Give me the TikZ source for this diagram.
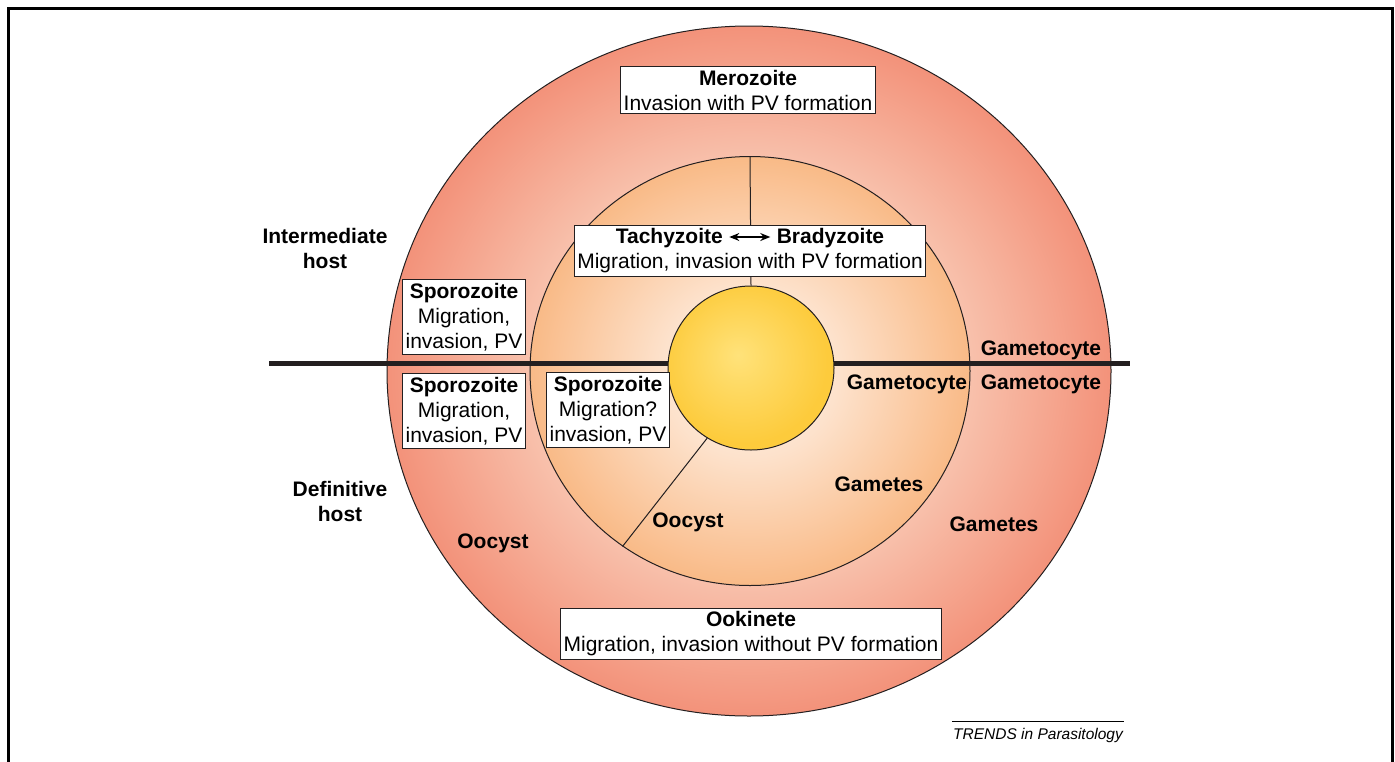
\documentclass[tikz,border=0pt]{standalone}
\usepackage{fontspec}
\setmainfont{Liberation Sans}
\usetikzlibrary{shapes.geometric,arrows.meta,positioning}

\definecolor{ringlight}{HTML}{FCE0D4}
\definecolor{ringmid}{HTML}{F8C2AD}
\definecolor{ringdark}{HTML}{F3927A}
\definecolor{zonelight}{HTML}{FFF4EB}
\definecolor{zonemid}{HTML}{FDE2CC}
\definecolor{zonedark}{HTML}{F9BA87}
\definecolor{corelight}{HTML}{FFE27A}
\definecolor{coredark}{HTML}{FDCB3C}
\definecolor{inkline}{HTML}{231F20}

\pgfdeclareradialshading{hostring}{\pgfpoint{0bp}{0bp}}{color(0bp)=(ringlight); color(15bp)=(ringmid); color(25bp)=(ringdark); color(50bp)=(ringdark)}
\pgfdeclareradialshading{hostzone}{\pgfpoint{0bp}{0bp}}{color(0bp)=(zonelight); color(10bp)=(zonemid); color(25bp)=(zonedark); color(50bp)=(zonedark)}
\pgfdeclareradialshading{hostcore}{\pgfpoint{-4bp}{4bp}}{color(0bp)=(corelight); color(25bp)=(coredark); color(50bp)=(coredark)}

\newcommand{\swaparrow}{\tikz[baseline=0pt]\draw[line width=1.4pt,{Stealth[length=10pt,width=8pt]}-{Stealth[length=10pt,width=8pt]}] (0pt,0.33em) -- (1.95em,0.33em);}

\begin{document}
\begin{tikzpicture}[x=1pt, y=-1pt,
    every node/.style={font=\fontsize{21}{25}\selectfont, text=black},
    infobox/.style={draw=inkline, fill=white, line width=1pt, align=center, inner xsep=3pt, inner ysep=3.5pt},
    stage/.style={font=\fontsize{21}{25}\selectfont\bfseries, align=center},
    disc/.style={ellipse, draw=inkline, line width=1pt, inner sep=0pt},
    thinline/.style={draw=inkline, line width=1pt}]
    \useasboundingbox (0,0) rectangle (1395,761);
    \draw[line width=3pt] (8,8) rectangle (1392,790);

    % host rings
    \node (outer) [disc, shading=hostring, minimum width=724pt, minimum height=690pt] at (749,371) {};
    \node (inner) [disc, shading=hostzone, minimum width=440pt, minimum height=429pt] at (750,371) {};

    \coordinate (hl) at (269,363);
    \coordinate (hr) at (1130,363);
    \draw[line width=5pt, draw=inkline] (hl) -- (hr);

    \node (core) [disc, shading=hostcore, minimum width=166pt, minimum height=164pt] at (751,368) {};

    \draw[thinline] (inner.north) -- (core.north);
    \draw[thinline] (core.238) -- (inner.234);

    % stage boxes
    \node (mero) [infobox] at (748,90) {\textbf{Merozoite}\\Invasion with PV formation};
    \node (tachy) [infobox] at (750,251) {\textbf{Tachyzoite}~\swaparrow~\textbf{Bradyzoite}\\Migration, invasion with PV formation};
    \node (spo_ih) [infobox] at (464,317) {\textbf{Sporozoite}\\Migration,\\invasion, PV};
    \node (spo_dh) [infobox] at (464,411) {\textbf{Sporozoite}\\Migration,\\invasion, PV};
    \node (spo_in) [infobox] at (608,410) {\textbf{Sporozoite}\\Migration?\\invasion, PV};
    \node (ooki) [infobox] at (751,634) {\textbf{Ookinete}\\Migration, invasion without PV formation};

    % labels
    \node (ihost) [stage] at (325,248) {Intermediate\\host};
    \node (dhost) [stage] at (340,501) {Definitive\\host};
    \node (gam_up) [stage] at (1041,350) {Gametocyte};
    \node (gam_out) [stage] at (1041,384) {Gametocyte};
    \node (gam_in) [stage] at (907,384) {Gametocyte};
    \node (gtes_in) [stage] at (879,484) {Gametes};
    \node (gtes_out) [stage] at (994,524) {Gametes};
    \node (oo_in) [stage] at (688,522) {Oocyst};
    \node (oo_out) [stage] at (493,543) {Oocyst};

    \node (trends) [anchor=base, inner xsep=1pt, inner ysep=6pt, font=\fontsize{15.5}{18}\selectfont\itshape] at (1038,739) {TRENDS in Parasitology};
    \draw[line width=0.8pt] (trends.north west) -- (trends.north east);
\end{tikzpicture}
\end{document}
